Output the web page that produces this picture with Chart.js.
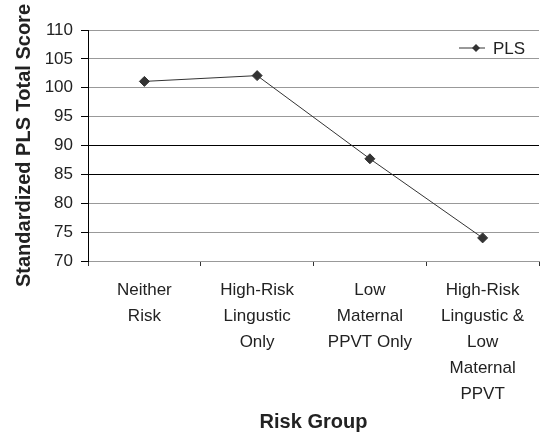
<!DOCTYPE html>
<html>
<head>
<meta charset="utf-8">
<script src="https://cdn.jsdelivr.net/npm/chart.js@4/dist/chart.umd.min.js"></script>
<style>
    html, body { margin: 0; padding: 0; background: #fff; }
    #wrap { width: 549px; height: 437px; position: relative; }
</style>
</head>
<body>
<div id="wrap"><canvas id="chart"></canvas></div>
<script>
const riskGroups = [
    ['Neither', 'Risk'],
    ['High-Risk', 'Lingustic', 'Only'],
    ['Low', 'Maternal', 'PPVT Only'],
    ['High-Risk', 'Lingustic &', 'Low', 'Maternal', 'PPVT'],
];
const plsScores = [101.1, 102.1, 87.7, 74.0];
const yTicks = [70, 75, 80, 85, 90, 95, 100, 105, 110];
const darkRows = [85, 90];

const fontFamily = 'Arial, "Liberation Sans", Helvetica, sans-serif';
const ink = '#333333';

const insideLegend = {
    id: 'insideLegend',
    afterDraw(chart) {
        const { ctx, chartArea } = chart;
        const y = chartArea.top + 18;
        const x0 = chartArea.right - 80;
        const x1 = x0 + 26;
        ctx.save();
        ctx.strokeStyle = ink;
        ctx.lineWidth = 1;
        ctx.beginPath();
        ctx.moveTo(x0, y);
        ctx.lineTo(x1, y);
        ctx.stroke();
        ctx.fillStyle = ink;
        ctx.beginPath();
        const cx = (x0 + x1) / 2 + 4;
        ctx.moveTo(cx, y - 4);
        ctx.lineTo(cx + 4, y);
        ctx.lineTo(cx, y + 4);
        ctx.lineTo(cx - 4, y);
        ctx.closePath();
        ctx.fill();
        ctx.font = `17px ${fontFamily}`;
        ctx.textBaseline = 'middle';
        ctx.fillStyle = '#222';
        ctx.fillText(chart.data.datasets[0].label, x1 + 8, y + 1);
        ctx.restore();
    },
};

new Chart(document.getElementById('chart'), {
    type: 'line',
    data: {
        labels: riskGroups,
        datasets: [{
            label: 'PLS',
            data: plsScores,
            borderColor: ink,
            borderWidth: 1,
            pointStyle: 'rectRot',
            pointRadius: 5,
            pointBackgroundColor: ink,
            pointBorderColor: ink,
            tension: 0,
        }],
    },
    options: {
        responsive: true,
        maintainAspectRatio: false,
        animation: false,
        layout: { padding: { top: 30, right: 10, left: 0, bottom: 0 } },
        plugins: {
            legend: { display: false },
            tooltip: { enabled: false },
        },
        scales: {
            x: {
                offset: true,
                grid: {
                    offset: true,
                    drawOnChartArea: true,
                    color: (ctx) => (ctx.index === riskGroups.length ? '#999' : 'rgba(0,0,0,0)'),
                    tickColor: ink,
                    tickLength: 5,
                },
                border: { color: '#999', width: 1 },
                ticks: {
                    color: '#222',
                    font: { family: fontFamily, size: 17, lineHeight: 1.53 },
                    maxRotation: 0,
                    autoSkip: false,
                    padding: 11,
                },
                title: {
                    display: true,
                    text: 'Risk Group',
                    color: '#222',
                    font: { family: fontFamily, size: 20, weight: 'bold' },
                    padding: { top: 0, bottom: 3 },
                },
                afterFit(scale) { scale.height = 176; },
            },
            y: {
                min: 70,
                max: 110,
                afterBuildTicks(scale) { scale.ticks = yTicks.map((v) => ({ value: v })); },
                grid: {
                    color: (ctx) => (darkRows.includes(ctx.tick.value) ? '#000' : '#999'),
                    tickColor: '#000',
                    tickLength: 7,
                },
                border: { color: '#000', width: 1 },
                ticks: {
                    color: '#222',
                    font: { family: fontFamily, size: 17 },
                    padding: 8,
                },
                title: {
                    display: true,
                    text: 'Standardized PLS Total Score',
                    color: '#222',
                    font: { family: fontFamily, size: 20, weight: 'bold' },
                    padding: { top: 12, bottom: 4 },
                },
                afterFit(scale) { scale.width = 88; },
            },
        },
    },
    plugins: [insideLegend],
});
</script>
</body>
</html>
